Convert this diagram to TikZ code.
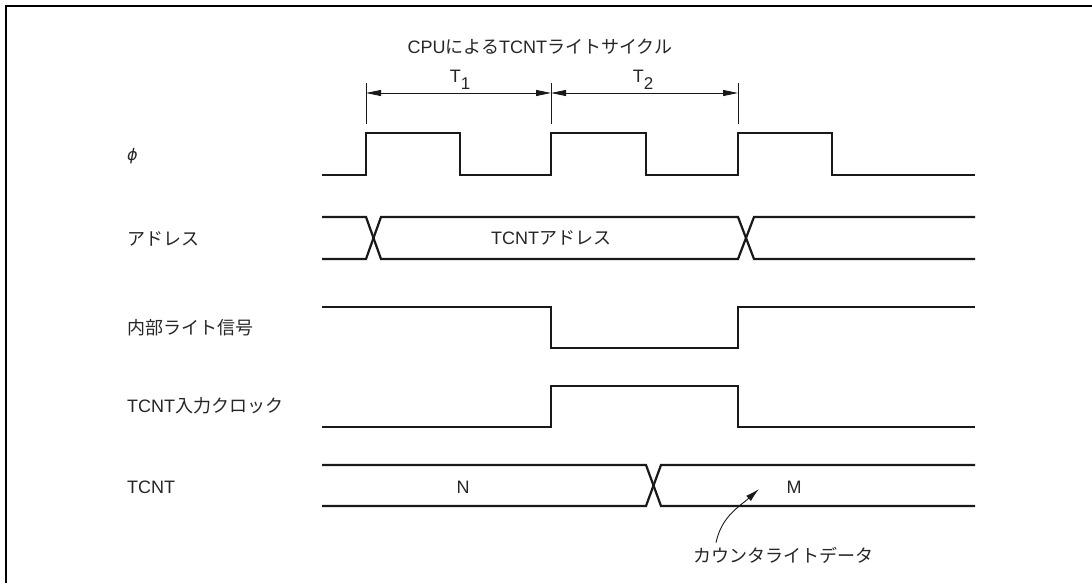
\documentclass[tikz,border=0pt]{standalone}
\usepackage{fontspec}
\setmainfont{Liberation Sans}
\newfontfamily\jp{Noto Sans CJK JP}
\newfontfamily\dvs{DejaVu Sans}
\usetikzlibrary{arrows.meta}
\newcommand\fsz{\fontsize{18}{22}\selectfont}
\newcommand\J[1]{{\jp #1}}
\begin{document}
\begin{tikzpicture}[x=1pt,y=-1pt,
  sig/.style={line width=2.2pt, line join=miter, line cap=butt, black!90},
  dimln/.style={line width=0.9pt, black!90},
  dimarr/.style={dimln, {Triangle[length=15pt,width=6pt]}-{Triangle[length=15pt,width=6pt]}},
  lbl/.style={anchor=west, inner sep=0pt, font=\fsz, text=black!85},
  txt/.style={inner sep=0pt, font=\fsz, text=black!85}]
\useasboundingbox (0,0) rectangle (1092,583);
% frame
\draw[line width=2.4pt] (6,583) -- (6,6) -- (1092,6);

% title and period labels
\node[txt] (title) at (540,47) {CPU\J{による}TCNT\J{ライトサイクル}};
\node[txt] (t1) at (460,80) {T\raisebox{-0.4em}{\fontsize{17}{20}\selectfont 1}};
\node[txt] (t2) at (643,80) {T\raisebox{-0.4em}{\fontsize{17}{20}\selectfont 2}};

% tick lines
\coordinate (k1t) at (366,83); \coordinate (k1b) at (366,124);
\coordinate (k2t) at (551,83); \coordinate (k2b) at (551,124);
\coordinate (k3t) at (738,83); \coordinate (k3b) at (738,124);
\draw[dimln] (k1t) -- (k1b);
\draw[dimln] (k2t) -- (k2b);
\draw[dimln] (k3t) -- (k3b);
\coordinate (a1) at (366,93); \coordinate (a2) at (551,93); \coordinate (a3) at (738,93);
\draw[dimarr] (a1) -- (a2);
\draw[dimarr] (a2) -- (a3);

% row labels
\node[lbl] (lphi) at (127,156) {{\dvs\itshape\fontsize{16}{20}\selectfont ϕ}};
\node[lbl] (laddr) at (127,239) {\J{アドレス}};
\node[lbl] (lwr) at (127,328) {\J{内部ライト信号}};
\node[lbl] (lclk) at (127,406) {TCNT\J{入力クロック}};
\node[lbl] (ltcnt) at (127,487) {TCNT};

% phi clock
\draw[sig] (322,175) -- (366,175) -- (366,133) -- (460,133) -- (460,175)
  -- (551,175) -- (551,133) -- (646,133) -- (646,175)
  -- (738,175) -- (738,133) -- (832,133) -- (832,175) -- (975,175);

% address bus
\draw[sig] (322,217) -- (366,217) -- (381,259) -- (738,259) -- (754,217) -- (975,217);
\draw[sig] (322,259) -- (366,259) -- (381,217) -- (738,217) -- (754,259) -- (975,259);
\node[txt] (addrv) at (551,238) {TCNT\J{アドレス}};

% internal write signal
\draw[sig] (322,307) -- (551,307) -- (551,348) -- (738,348) -- (738,307) -- (975,307);

% TCNT input clock
\draw[sig] (322,427) -- (551,427) -- (551,386) -- (738,386) -- (738,427) -- (975,427);

% TCNT bus
\draw[sig] (322,465) -- (646,465) -- (661,506) -- (975,506);
\draw[sig] (322,506) -- (646,506) -- (661,465) -- (975,465);
\node[txt] (nv) at (463,487) {N};
\node[txt] (mv) at (794,487) {M};

% annotation
\node[txt, anchor=west] (cwd) at (693,555) {\J{カウンタライトデータ}};
\coordinate (mtip) at (759,489);
\draw[line width=0.9pt, black!90, -{Latex[length=14pt,width=7pt]}]
  ([xshift=23pt,yshift=4pt]cwd.north west) to[out=78, in=-138] (mtip);
\end{tikzpicture}
\end{document}
